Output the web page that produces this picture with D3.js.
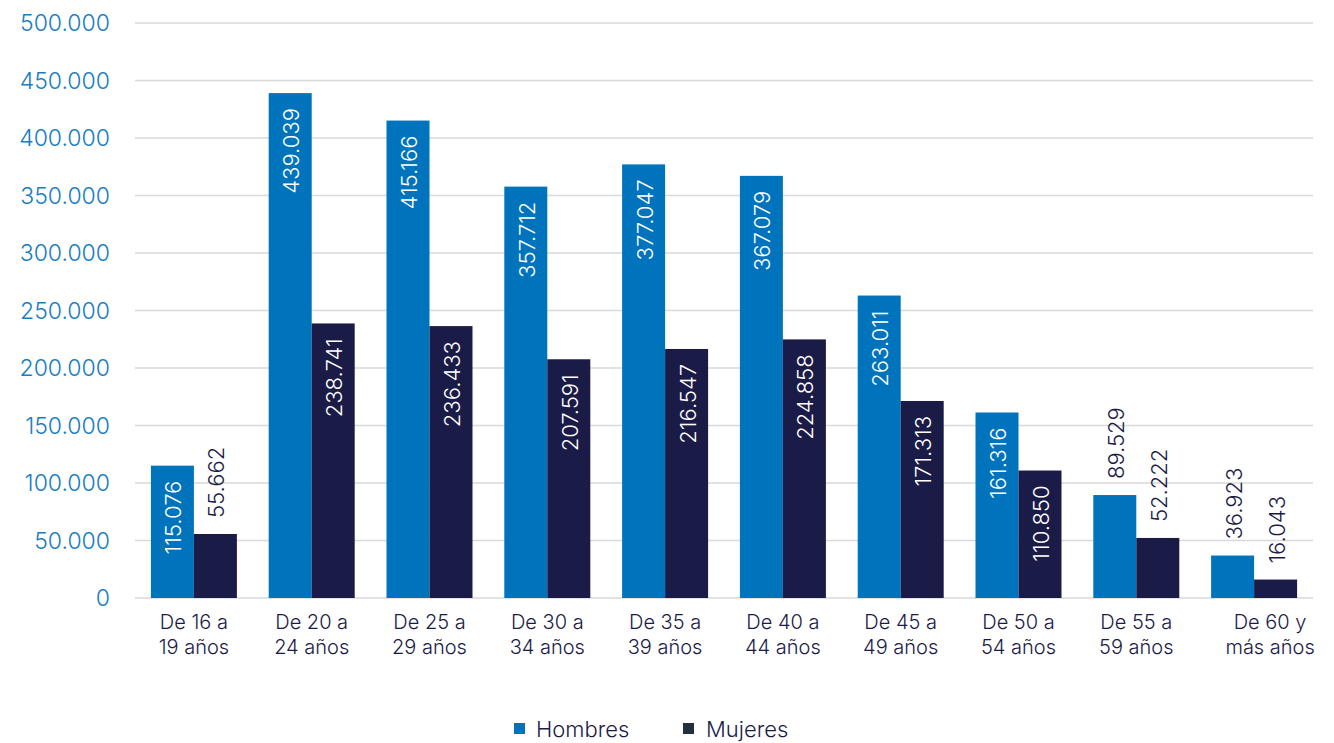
<!DOCTYPE html>
<html><head><meta charset="utf-8">
<script src="https://cdn.jsdelivr.net/npm/d3@7"></script>
<style>body{margin:0;background:#fff;font-family:Inter,"Noto Sans",sans-serif;}
text{font-feature-settings:"pnum" 1;font-variant-numeric:proportional-nums;}</style>
</head><body><svg id="c" width="1334" height="743"></svg>
<script>
const categories = [["De 16 a","19 años"],["De 20 a","24 años"],["De 25 a","29 años"],["De 30 a","34 años"],["De 35 a","39 años"],["De 40 a","44 años"],["De 45 a","49 años"],["De 50 a","54 años"],["De 55 a","59 años"],["De 60 y","más años"]];
const hombres = [115076,439039,415166,357712,377047,367079,263011,161316,89529,36923];
const mujeres = [55662,238741,236433,207591,216547,224858,171313,110850,52222,16043];
const yTicks = [0,50000,100000,150000,200000,250000,300000,350000,400000,450000,500000];
const seriesNames = ["Hombres","Mujeres"];
const colors = ["#0073bd","#1b1b47"];
const legendColors = ["#0073bd","#232f3e"];

const svg = d3.select("#c");
const fmt = v => v === 0 ? "0" : d3.format(",")(v).replace(/,/g,".");
const y = d3.scaleLinear().domain([0,500000]).range([598,23]);
const x = d3.scaleBand().domain(d3.range(categories.length)).range([135,1313]).paddingInner(0.27).paddingOuter(0.135);
const xs = d3.scaleBand().domain([0,1]).range([0,x.bandwidth()]);

// grid
svg.append("g").selectAll("line").data(yTicks).join("line")
  .attr("x1",135).attr("x2",1313).attr("y1",d=>y(d)).attr("y2",d=>y(d))
  .attr("stroke","#d9d9d9").attr("stroke-width",1.5);
// y labels
svg.append("g").selectAll("text").data(yTicks).join("text")
  .attr("x",110).attr("y",d=>y(d)).attr("dy","0.36em").attr("text-anchor","end")
  .attr("fill","#1a7dc0").attr("font-size",23).attr("font-weight",350).text(fmt);

const groups = svg.append("g").selectAll("g").data(categories).join("g")
  .attr("transform",(d,i)=>`translate(${x(i)},0)`);
[hombres,mujeres].forEach((vals,s)=>{
  groups.append("rect").attr("x",xs(s)).attr("width",xs.bandwidth())
    .attr("y",(d,i)=>y(vals[i])).attr("height",(d,i)=>y(0)-y(vals[i]))
    .attr("fill",colors[s]);
  groups.append("text").each(function(d,i){
    const v = vals[i];
    const inside = (y(0)-y(v)) > 110;
    const cx = xs(s)+xs.bandwidth()/2;
    const ty = inside ? y(v)+15 : y(v)-16;
    d3.select(this).attr("transform",`translate(${cx+1},${ty}) rotate(-90)`)
      .attr("text-anchor", inside ? "end" : "start").attr("dy","0.36em")
      .attr("fill", inside ? "#ffffff" : "#1b1b47").attr("font-size",22).attr("font-weight",300).text(fmt(v));
  });
});
// x labels
groups.append("text").attr("y",629).attr("text-anchor","middle")
  .attr("fill","#1b1b47").attr("font-size",20).attr("font-weight",350)
  .each(function(d,i){
    const cx = x.bandwidth()/2 + (i===categories.length-1?16:0);
    d3.select(this).selectAll("tspan").data(d).join("tspan").attr("x",cx).attr("dy",(t,j)=>j?25:0).text(t=>t);
  });

// legend
const leg = [{x:514,t:536},{x:683,t:706}];
seriesNames.forEach((n,i)=>{
  svg.append("rect").attr("x",leg[i].x).attr("y",723).attr("width",11).attr("height",11).attr("fill",legendColors[i]);
  svg.append("text").attr("x",leg[i].t).attr("y",729).attr("dy","0.36em").attr("fill","#1b1b47").attr("font-size",22).attr("font-weight",350).text(n);
});
</script></body></html>
